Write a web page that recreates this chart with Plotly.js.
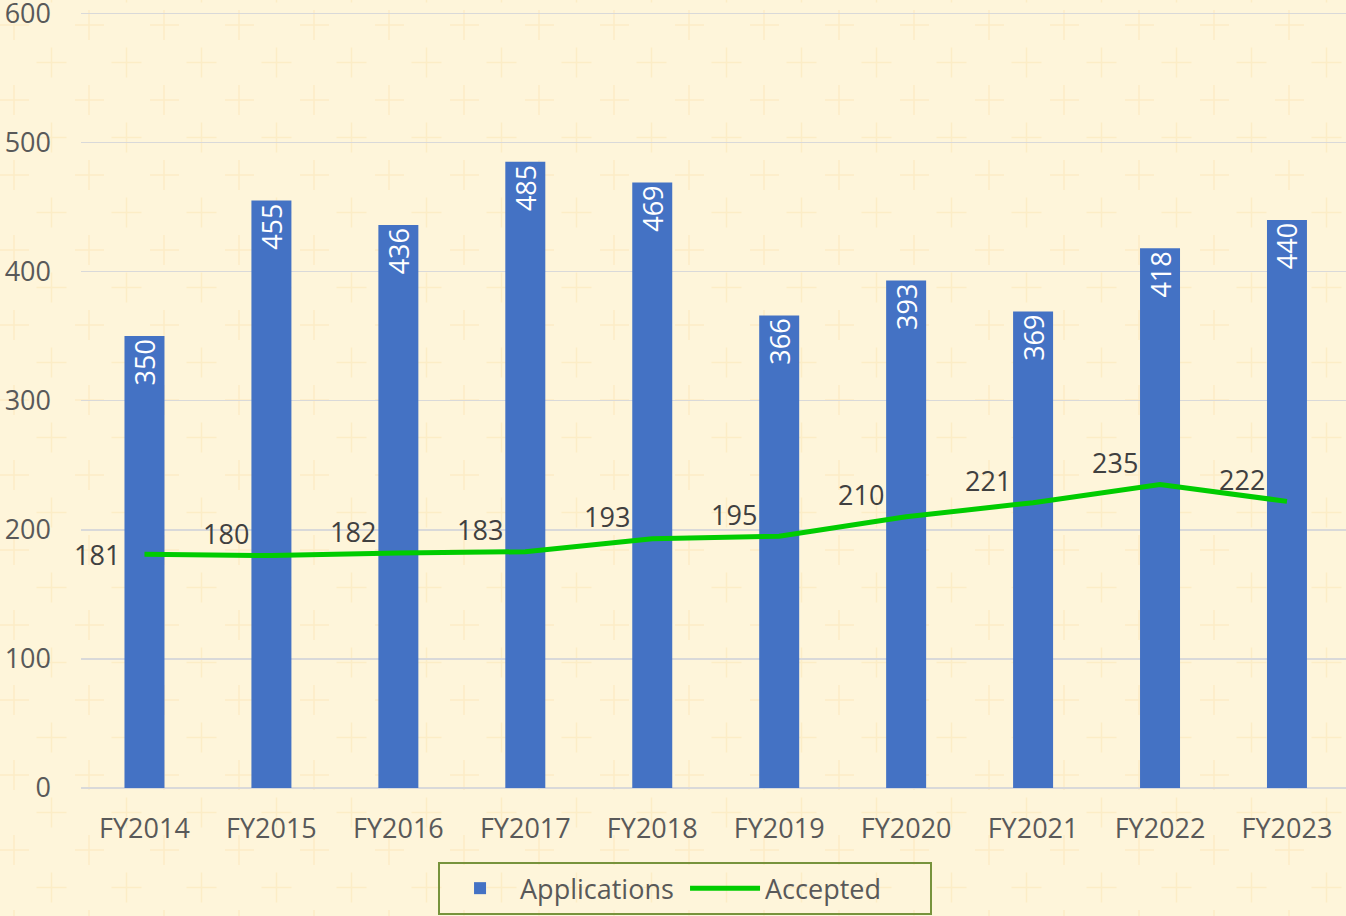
<!DOCTYPE html>
<html>
<head>
<meta charset="utf-8">
<script src="https://cdn.plot.ly/plotly-3.0.1.min.js"></script>
<style>
html,body{margin:0;padding:0;}
body{
  width:1346px;height:916px;overflow:hidden;
  background-color:#FEF5DA;
  background-image:url("data:image/svg+xml;utf8,<svg xmlns='http://www.w3.org/2000/svg' width='75' height='75'><g stroke='%23FCEDC6' stroke-width='1.5'><line x1='14' y1='10' x2='14' y2='40'/><line x1='-1' y1='25' x2='29' y2='25'/><line x1='51.5' y1='47.5' x2='51.5' y2='77.5'/><line x1='36.5' y1='62.5' x2='66.5' y2='62.5'/><line x1='51.5' y1='-27.5' x2='51.5' y2='2.5'/></g></svg>");
}
#chart{width:1346px;height:916px;}
</style>
</head>
<body>
<div id="chart"></div>
<script>
const categories = ["FY2014","FY2015","FY2016","FY2017","FY2018","FY2019","FY2020","FY2021","FY2022","FY2023"];
const applications = [350,455,436,485,469,366,393,369,418,440];
const accepted = [181,180,182,183,193,195,210,221,235,222];
const yTicks = [0,100,200,300,400,500,600];

const FONT = "Open Sans, Noto Sans, sans-serif";

const bars = {
  type:'bar', name:'Applications', x:categories, y:applications,
  marker:{color:'#4472C4'},
  text:applications.map(String), textposition:'inside', insidetextanchor:'end',
  textangle:-90, constraintext:'none',
  textfont:{family:FONT,size:27,color:'#FFFFFF'},
  hoverinfo:'x+y'
};
const line = {
  type:'scatter', mode:'lines', name:'Accepted', x:categories, y:accepted,
  line:{color:'#00CC00',width:5}
};

const annotations = categories.map((c,i)=>({
  x:c, y:accepted[i], xref:'x', yref:'y',
  text:String(accepted[i]), showarrow:false,
  font:{family:FONT,size:27,color:'#404040'},
  xshift: i===0 ? -47 : -45,
  yshift: i===0 ? 0 : 22
}));

const layout = {
  width:1346, height:916,
  paper_bgcolor:'rgba(0,0,0,0)', plot_bgcolor:'rgba(0,0,0,0)',
  margin:{l:81,r:0,t:12,b:128},
  bargap:0.685,
  showlegend:true,
  legend:{orientation:'h', x:0.4775, xanchor:'center', y:-0.0955, yanchor:'top',
    bordercolor:'#77933C', borderwidth:2, bgcolor:'rgba(0,0,0,0)',
    font:{family:FONT,size:27,color:'#595959'}, itemwidth:70, entrywidth:160,
    traceorder:'normal'},
  xaxis:{type:'category', range:[-0.5,9.465], showgrid:false, zeroline:false,
    showline:false, ticks:'', ticklabelstandoff:22,
    tickfont:{family:FONT,size:27,color:'#595959'}},
  yaxis:{range:[0,601], tickvals:yTicks, ticktext:yTicks.map(String),
    showgrid:true, gridcolor:'#D9D9D9', gridwidth:1.5, zeroline:true,
    zerolinecolor:'#D9D9D9', zerolinewidth:1.5, ticks:'', ticklabelstandoff:29,
    ticklabeloverflow:'allow',
    tickfont:{family:FONT,size:27,color:'#595959'}},
  annotations:annotations
};

Plotly.newPlot('chart',[bars,line],layout,{displayModeBar:false,staticPlot:true});
</script>
</body>
</html>
